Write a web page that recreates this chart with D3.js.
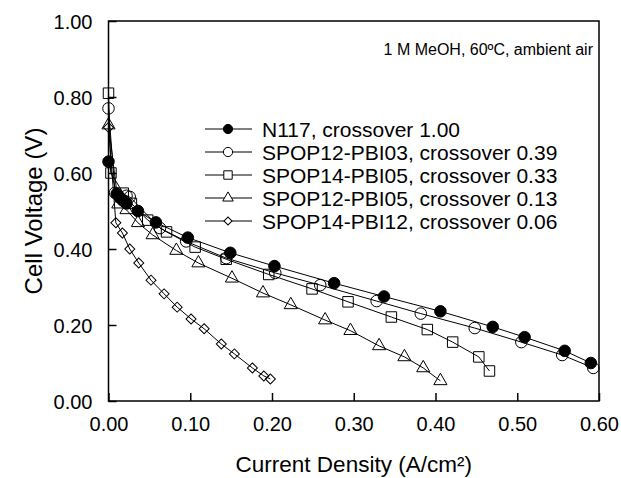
<!DOCTYPE html>
<html>
<head>
<meta charset="utf-8">
<script src="https://cdn.jsdelivr.net/npm/d3@7"></script>
<style>
  body { margin: 0; background: #fff; }
  text { font-family: "Liberation Sans", Arial, sans-serif; fill: #000; }
</style>
</head>
<body>
<div id="chart"></div>
<script>
var margin = {top: 21, right: 22, bottom: 77, left: 108.5},
    width = 621 - margin.left - margin.right,
    height = 478 - margin.top - margin.bottom;

// series
var seriesNames = ["N117, crossover 1.00", "SPOP12-PBI03, crossover 0.39",
                   "SPOP14-PBI05, crossover 0.33", "SPOP12-PBI05, crossover 0.13",
                   "SPOP14-PBI12, crossover 0.06"];

var n117X = [0, 0.010, 0.014, 0.018, 0.022, 0.036, 0.058, 0.097, 0.149, 0.203, 0.276, 0.337, 0.406, 0.470, 0.509, 0.558, 0.590];
var n117Y = [0.63, 0.545, 0.535, 0.528, 0.52, 0.50, 0.47, 0.43, 0.39, 0.355, 0.31, 0.275, 0.236, 0.195, 0.168, 0.132, 0.10];

var p1203X = [0, 0.008, 0.022, 0.026, 0.063, 0.095, 0.144, 0.204, 0.259, 0.328, 0.382, 0.448, 0.505, 0.555, 0.593];
var p1203Y = [0.77, 0.548, 0.54, 0.537, 0.455, 0.42, 0.376, 0.337, 0.305, 0.263, 0.230, 0.192, 0.155, 0.121, 0.087];

var p1405X = [0, 0.003, 0.018, 0.028, 0.048, 0.071, 0.106, 0.144, 0.196, 0.249, 0.293, 0.346, 0.390, 0.421, 0.453, 0.466];
var p1405Y = [0.81, 0.60, 0.547, 0.52, 0.476, 0.445, 0.405, 0.373, 0.333, 0.295, 0.261, 0.221, 0.188, 0.155, 0.116, 0.079];

var p1205X = [0, 0.012, 0.022, 0.036, 0.054, 0.083, 0.110, 0.151, 0.189, 0.223, 0.265, 0.296, 0.331, 0.362, 0.385, 0.406];
var p1205Y = [0.726, 0.518, 0.503, 0.469, 0.437, 0.396, 0.363, 0.323, 0.284, 0.253, 0.213, 0.185, 0.145, 0.116, 0.087, 0.053];

var p1412X = [0, 0.009, 0.017, 0.026, 0.037, 0.052, 0.068, 0.084, 0.101, 0.117, 0.138, 0.154, 0.176, 0.190, 0.198];
var p1412Y = [0.72, 0.469, 0.442, 0.40, 0.363, 0.318, 0.282, 0.247, 0.216, 0.19, 0.15, 0.124, 0.087, 0.066, 0.058];

var xTicks = [0, 0.1, 0.2, 0.3, 0.4, 0.5, 0.6];
var yTicks = [0, 0.2, 0.4, 0.6, 0.8, 1.0];

var series = [
  {name: seriesNames[0], xs: n117X, ys: n117Y, shape: "circle", fill: "#000"},
  {name: seriesNames[1], xs: p1203X, ys: p1203Y, shape: "circle", fill: "#fff"},
  {name: seriesNames[2], xs: p1405X, ys: p1405Y, shape: "square", fill: "#fff"},
  {name: seriesNames[3], xs: p1205X, ys: p1205Y, shape: "triangle", fill: "#fff"},
  {name: seriesNames[4], xs: p1412X, ys: p1412Y, shape: "diamond", fill: "#fff"}
];

var x = d3.scaleLinear().domain([0, 0.6]).range([0, width]);
var y = d3.scaleLinear().domain([0, 1]).range([height, 0]);

var svg = d3.select("#chart").append("svg")
    .attr("width", 621)
    .attr("height", 478);

var g = svg.append("g")
    .attr("transform", "translate(" + margin.left + "," + margin.top + ")");

// marker shapes, scale factor k for legend
function markerPath(shape, k) {
  if (shape == "circle") return d3.symbol(d3.symbolCircle, 105 * k * k)();
  if (shape == "square") return d3.symbol(d3.symbolSquare, 110 * k * k)();
  if (shape == "triangle") return d3.symbol(d3.symbolTriangle, 75 * k * k)();
  return d3.symbol(d3.symbolSquare, 50 * k * k)();
}

var line = d3.line()
    .x(function(d) { return x(d[0]); })
    .y(function(d) { return y(d[1]); });

series.forEach(function(s) {
  var pts = s.xs.map(function(v, i) { return [v, s.ys[i]]; });
  g.append("path")
      .datum(pts)
      .attr("d", line)
      .attr("fill", "none")
      .attr("stroke", "#000")
      .attr("stroke-width", 1);
});

series.forEach(function(s) {
  var pts = s.xs.map(function(v, i) { return [v, s.ys[i]]; });
  g.selectAll(null)
      .data(pts)
      .enter().append("path")
      .attr("d", markerPath(s.shape, 1))
      .attr("transform", function(d) {
        return "translate(" + x(d[0]) + "," + y(d[1]) + ")" + (s.shape == "diamond" ? " rotate(45)" : "");
      })
      .attr("fill", s.fill)
      .attr("fill-opacity", s.fill == "#000" ? 1 : 0)
      .attr("stroke", "#000")
      .attr("stroke-width", 1);
});

// axes, ticks pointing inward
var xAxis = d3.axisBottom(x).tickValues(xTicks).tickSize(-8).tickFormat(d3.format(".2f")).tickPadding(16);
var yAxis = d3.axisLeft(y).tickValues(yTicks).tickSize(-8).tickFormat(d3.format(".2f")).tickPadding(16);

g.append("g")
    .attr("class", "x axis")
    .attr("transform", "translate(0," + height + ")")
    .call(xAxis);

g.append("g")
    .attr("class", "y axis")
    .call(yAxis);

g.selectAll(".axis .domain").remove();
g.selectAll(".axis line").attr("stroke", "#000").attr("stroke-width", 1.5);
g.selectAll(".axis text").style("font-size", "20px").attr("fill", "#000");
g.selectAll(".y.axis text").attr("dy", "0.36em");

// frame
g.append("rect")
    .attr("width", width)
    .attr("height", height)
    .attr("fill", "none")
    .attr("stroke", "#000")
    .attr("stroke-width", 1.5);

// axis titles
svg.append("text")
    .attr("x", margin.left + width / 2)
    .attr("y", 472)
    .style("text-anchor", "middle")
    .style("font-size", "22.5px")
    .text("Current Density (A/cm²)");

svg.append("text")
    .attr("transform", "translate(42," + (margin.top + height / 2) + ") rotate(-90)")
    .style("text-anchor", "middle")
    .style("font-size", "24px")
    .text("Cell Voltage (V)");

// conditions note
svg.append("text")
    .attr("x", 593)
    .attr("y", 55)
    .style("text-anchor", "end")
    .style("font-size", "16px")
    .text("1 M MeOH, 60ºC, ambient air");

// legend
var legend = svg.append("g").attr("transform", "translate(205,129)");
series.forEach(function(s, i) {
  var row = legend.append("g").attr("transform", "translate(0," + (i * 23) + ")");
  row.append("line")
      .attr("x1", 0).attr("x2", 47)
      .attr("stroke", "#000").attr("stroke-width", 1);
  row.append("path")
      .attr("d", markerPath(s.shape, 0.8))
      .attr("transform", "translate(23,0)" + (s.shape == "diamond" ? " rotate(45)" : ""))
      .attr("fill", s.fill)
      .attr("stroke", "#000");
  row.append("text")
      .attr("x", 57)
      .attr("dy", "0.36em")
      .style("font-size", "21px")
      .text(s.name);
});
</script>
</body>
</html>
